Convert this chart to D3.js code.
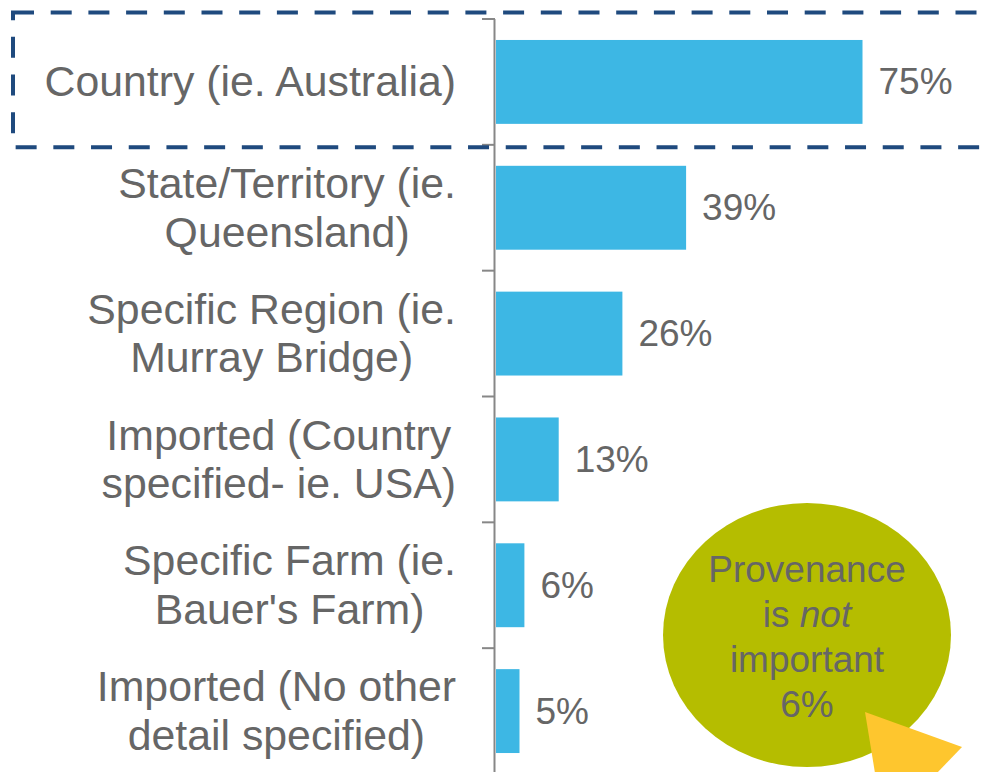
<!DOCTYPE html>
<html>
<head>
<meta charset="utf-8">
<script src="https://cdn.jsdelivr.net/npm/d3@7"></script>
<style>
  html, body { margin: 0; padding: 0; background: #fff; }
  svg { display: block; font-family: "Liberation Sans", Arial, sans-serif; }
</style>
</head>
<body>
<div id="vis"></div>
<script>
// Data
var categories = [
    ["Country (ie. Australia)"],
    ["State/Territory (ie.", "Queensland)"],
    ["Specific Region (ie.", "Murray Bridge)"],
    ["Imported (Country", "specified- ie. USA)"],
    ["Specific Farm (ie.", "Bauer's Farm)"],
    ["Imported (No other", "detail specified)"]
];
var values = [75, 39, 26, 13, 6, 5];
var highlighted = 0; // the dashed box goes round the first category
var notImportantLabel = ["Provenance", "is |not|", "important"];
var notImportantValue = 6;

var width = 984,
    height = 772;

var svg = d3.select('#vis').append('svg')
    .attr('width', width)
    .attr('height', height);

// Scales
var yScale = d3.scaleBand()
    .domain(d3.range(categories.length))
    .range([19, 774])
    .paddingInner(1 / 3)
    .paddingOuter(1 / 6);

var xScale = d3.scaleLinear()
    .domain([0, 75])
    .range([495, 862.5]);

var textColor = '#666666';
var step = yScale.step();
var gap = step * yScale.paddingInner() / 2;

// Bars
svg.selectAll('rect.bar')
    .data(values)
    .enter().append('rect')
    .attr('class', 'bar')
    .attr('x', xScale(0) + 1)
    .attr('y', function(d, i) { return yScale(i); })
    .attr('width', function(d) { return xScale(d) - xScale(0) - 1; })
    .attr('height', yScale.bandwidth())
    .attr('fill', '#3DB7E4');

// Value labels
svg.selectAll('text.value')
    .data(values)
    .enter().append('text')
    .attr('class', 'value')
    .attr('x', function(d) { return xScale(d) + 16; })
    .attr('y', function(d, i) { return yScale(i) + yScale.bandwidth() / 2 + 12.5; })
    .attr('fill', textColor)
    .style('font-size', '37px')
    .text(function(d) { return d + '%'; });

// Axis line and ticks between the categories
var axis = svg.append('g').attr('class', 'axis');
axis.append('line')
    .attr('x1', xScale(0) - 0.5).attr('x2', xScale(0) - 0.5)
    .attr('y1', yScale.range()[0]).attr('y2', height + 5)
    .attr('stroke', '#878787').attr('stroke-width', 2);

var tickPos = d3.range(categories.length).map(function(i) { return yScale(i) - gap; });
axis.selectAll('line.tick')
    .data(tickPos)
    .enter().append('line')
    .attr('class', 'tick')
    .attr('x1', xScale(0) - 13).attr('x2', xScale(0))
    .attr('y1', function(d) { return d; }).attr('y2', function(d) { return d; })
    .attr('stroke', '#878787').attr('stroke-width', 2);

// Category labels: lines centred on each other, block right aligned
var labelRight = 456,
    labelSize = 42.8,
    lineHeight = 48.7;

categories.forEach(function(lines, i) {
    var g = svg.append('g').attr('class', 'label');
    var c = yScale(i) + yScale.bandwidth() / 2;
    var texts = g.selectAll('text')
        .data(lines)
        .enter().append('text')
        .attr('fill', textColor)
        .attr('text-anchor', 'middle')
        .style('font-size', labelSize + 'px')
        .attr('y', function(d, j) {
            return c + (j - (lines.length - 1) / 2) * lineHeight + 0.34 * labelSize;
        })
        .text(function(d) { return d; });
    var maxW = 0;
    texts.each(function() { maxW = Math.max(maxW, this.getComputedTextLength()); });
    texts.attr('x', labelRight - maxW / 2);
});

// Dashed highlight box round the first category
var boxTop = yScale(highlighted) - gap - 6.5;
svg.append('rect')
    .attr('x', 13)
    .attr('y', boxTop)
    .attr('width', 1000)
    .attr('height', step + 9)
    .attr('fill', 'none')
    .attr('stroke', '#1F4A7E')
    .attr('stroke-width', 4)
    .attr('stroke-dasharray', '21,16.7');

// Speech bubble: "Provenance is not important"
var bubble = svg.append('g').attr('class', 'bubble');
bubble.append('ellipse')
    .attr('cx', 807).attr('cy', 635)
    .attr('rx', 144).attr('ry', 132)
    .attr('fill', '#B5BD00');
bubble.append('path')
    .attr('d', 'M865,712 L962,747 L884,828 Z')
    .attr('fill', '#FEC62E');

var bubbleLines = notImportantLabel.concat([notImportantValue + '%']);
bubbleLines.forEach(function(line, j) {
    var t = bubble.append('text')
        .attr('x', 807)
        .attr('y', 582 + j * 45)
        .attr('text-anchor', 'middle')
        .attr('fill', textColor)
        .style('font-size', '37px');
    line.split('|').forEach(function(part, k) {
        if (!part) return;
        t.append('tspan')
            .style('font-style', k === 1 ? 'italic' : 'normal')
            .text(part);
    });
});
</script>
</body>
</html>
